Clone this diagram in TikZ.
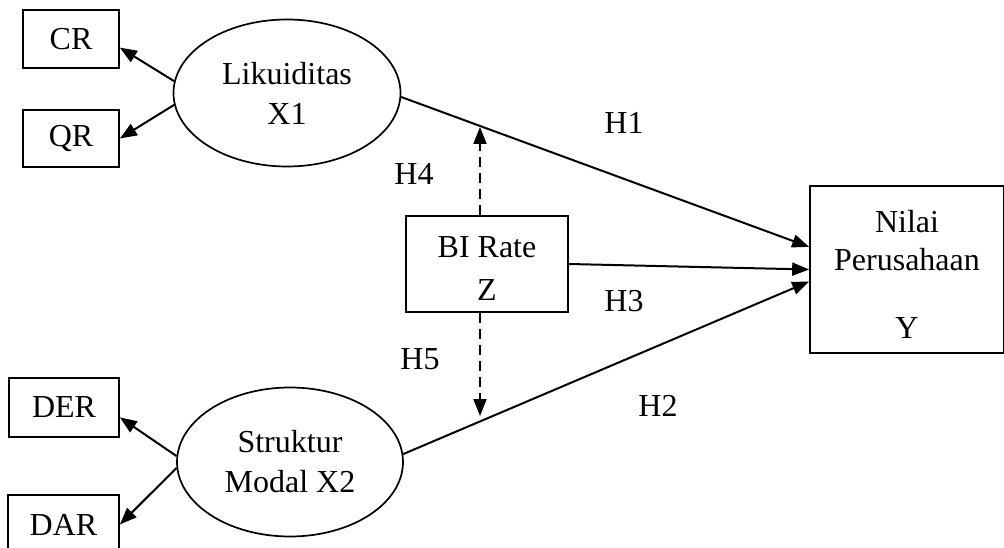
\documentclass[tikz,border=0pt]{standalone}
\usepackage{fontspec}
\setmainfont{Liberation Serif}
\usetikzlibrary{shapes.geometric,arrows.meta,calc}
\tikzset{
  every node/.style={font=\fontsize{32}{40}\selectfont},
  box/.style={draw,line width=1.7pt,inner sep=0pt},
  latent/.style={draw,ellipse,line width=1.7pt,inner sep=0pt},
  path/.style={line width=2pt,-{Triangle[length=17pt,width=13pt]}},
  moderate/.style={path,dash pattern=on 10pt off 6pt},
  hyp/.style={inner sep=0pt}
}
% centred stack of lines, lowered by #1 without changing its box size
\newcommand{\stack}[2][0pt]{\raisebox{#1}[\height][\depth]{\begin{tabular}{@{}c@{}}#2\end{tabular}}}
\begin{document}
\begin{tikzpicture}[x=1pt,y=-1pt]
\useasboundingbox (0,0) rectangle (1004,548);
\clip (0,0) rectangle (1004,548);

% indicators
\node[box,minimum width=96pt,minimum height=58pt] (cr) at (71,39) {CR};
\node[box,minimum width=96pt,minimum height=57pt] (qr) at (71,138.5) {QR};
\node[box,minimum width=110pt,minimum height=59pt] (der) at (64,407.5) {DER};
\node[box,minimum width=111pt,minimum height=59pt] (dar) at (63.5,524.5) {DAR};

% latent variables
\node[latent,minimum width=227pt,minimum height=147pt,align=center] (lik) at (287,93) {Likuiditas\\X1};
\node[latent,minimum width=226pt,minimum height=149pt,align=center] (str) at (290,462) {Struktur\\Modal X2};

% moderator and outcome
\node[box,minimum width=162pt,minimum height=96pt] (bi) at (487,264) {\stack[-7pt]{BI Rate\\[3pt]Z}};
\node[box,minimum width=194pt,minimum height=167pt] (nilai) at (907,269.5) {\stack[-8pt]{Nilai\\[-2pt]Perusahaan\\[28pt]Y}};

% reflective arrows
\draw[path] (lik.174) -- (cr.-10);
\draw[path] (lik.186) -- (qr.east);
\draw[path] (str.177) -- (der.-10);
\draw[path] (str.183) -- (dar.east);

% structural paths
\draw[path] (lik.-2) -- (nilai.167);
\draw[path] (bi.east) -- (nilai.west);
\draw[path] (str.4) -- (nilai.187);

% moderation
\coordinate (bitop) at ($(bi.north)+(-7,0)$);
\coordinate (bibot) at ($(bi.south)+(-7,0)$);
\coordinate (m4) at (480,127);
\coordinate (m5) at (480,416);
\draw[moderate] (bitop) -- (m4);
\draw[moderate] (bibot) -- (m5);

% hypothesis labels
\node[hyp] (h1) at (624,122.5) {H1};
\node[hyp] (h2) at (658,406) {H2};
\node[hyp] (h3) at (624,301) {H3};
\node[hyp] (h4) at (414,174) {H4};
\node[hyp] (h5) at (420,359) {H5};
\end{tikzpicture}
\end{document}
